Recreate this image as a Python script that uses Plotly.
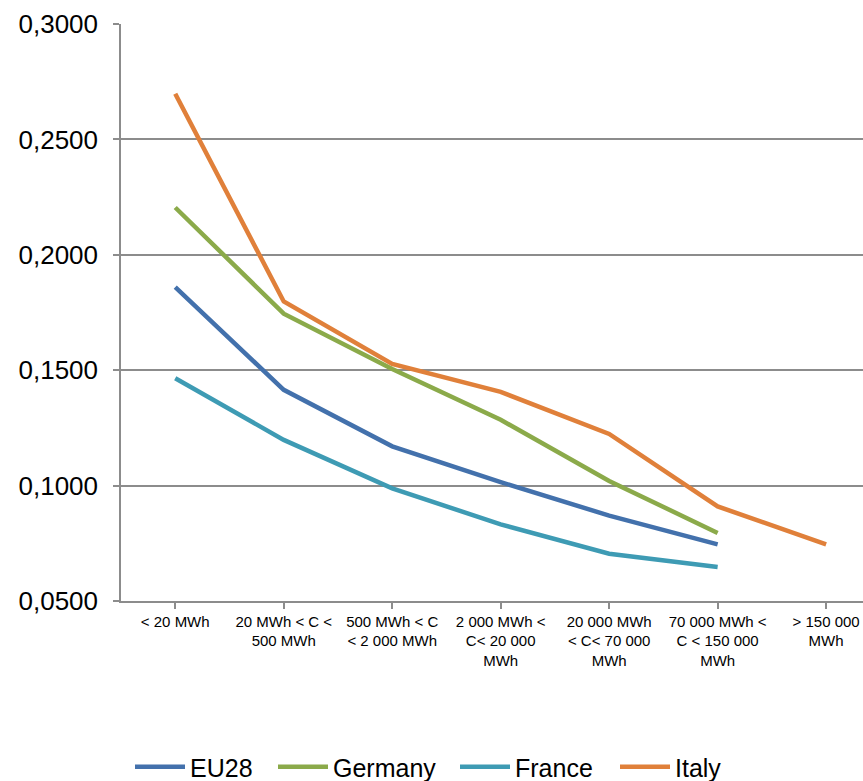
import plotly.graph_objects as go

# Consumption bands (x axis categories)
bands = [
    "< 20 MWh",
    "20 MWh < C <<br>500 MWh",
    "500 MWh < C<br>< 2 000 MWh",
    "2 000 MWh <<br>C< 20 000<br>MWh",
    "20 000 MWh<br>< C< 70 000<br>MWh",
    "70 000 MWh <<br>C < 150 000<br>MWh",
    "> 150 000<br>MWh",
]

# Price per band for each series
eu28 = [0.186, 0.1415, 0.117, 0.1015, 0.087, 0.0745, None]
germany = [0.2205, 0.1745, 0.1505, 0.1285, 0.102, 0.0795, None]
france = [0.1465, 0.1198, 0.0988, 0.0832, 0.0705, 0.0647, None]
italy = [0.2698, 0.1798, 0.1527, 0.1406, 0.1224, 0.091, 0.0745]

y_ticks = [0.05, 0.10, 0.15, 0.20, 0.25, 0.30]
y_tick_text = ["0,0500", "0,1000", "0,1500", "0,2000", "0,2500", "0,3000"]

# name, values, colour, legend id, legend entry left edge (px)
series = [
    ("EU28", eu28, "#4371AC", "legend", 130),
    ("Germany", germany, "#8BAA4A", "legend2", 273),
    ("France", france, "#3E9BB4", "legend3", 455),
    ("Italy", italy, "#E0803A", "legend4", 615),
]

W, H = 863, 781
LEGEND_Y = 767

fig = go.Figure()
legends = {}
for name, vals, color, lg, left in series:
    fig.add_trace(go.Scatter(
        x=list(range(len(bands))),
        y=vals,
        name=name,
        mode="lines",
        line=dict(color=color, width=4.5),
        connectgaps=False,
        legend=lg,
    ))
    legends[lg] = dict(
        orientation="h",
        xref="container",
        yref="container",
        x=left / W,
        xanchor="left",
        y=1 - LEGEND_Y / H,
        yanchor="middle",
        font=dict(size=25),
        itemwidth=50,
        bgcolor="rgba(0,0,0,0)",
    )

fig.update_layout(
    width=W,
    height=H,
    paper_bgcolor="white",
    plot_bgcolor="white",
    margin=dict(l=121, r=0, t=24, b=180, autoexpand=False),
    font=dict(family="Liberation Sans, Arial, sans-serif", color="black"),
    showlegend=True,
    **legends,
)

fig.update_xaxes(
    tickmode="array",
    tickvals=list(range(len(bands))),
    ticktext=bands,
    range=[-0.5, 6.34],
    automargin=False,
    showgrid=False,
    zeroline=False,
    showline=True,
    linecolor="#8C8C8C",
    linewidth=1.5,
    ticks="outside",
    tickson="boundaries",
    ticklen=6,
    tickcolor="#8C8C8C",
    tickwidth=1.5,
    tickfont=dict(size=15),
)

fig.update_yaxes(
    range=[0.05, 0.30],
    tickmode="array",
    tickvals=y_ticks,
    ticktext=y_tick_text,
    automargin=False,
    showgrid=True,
    gridcolor="#8C8C8C",
    gridwidth=1.5,
    zeroline=False,
    showline=True,
    linecolor="#8C8C8C",
    linewidth=1.5,
    ticks="outside",
    ticklen=6,
    tickcolor="#8C8C8C",
    tickwidth=1.5,
    ticklabelstandoff=10,
    tickfont=dict(size=26),
)

fig.write_html("out.html")
